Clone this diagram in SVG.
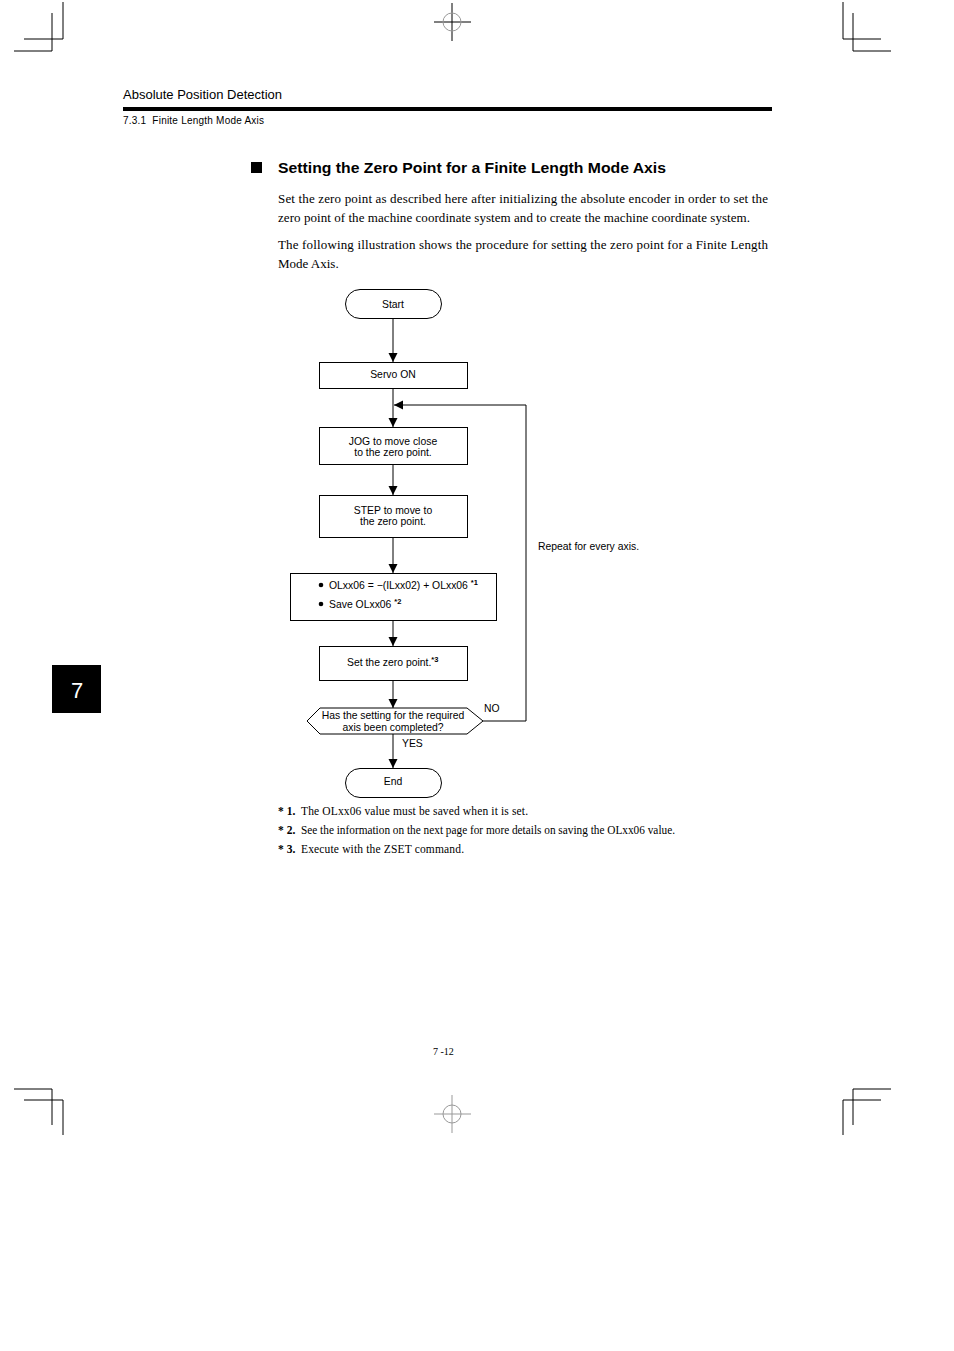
<svg xmlns="http://www.w3.org/2000/svg" width="954" height="1351" viewBox="0 0 954 1351">
<defs>
<style>
.ln{stroke:#000;stroke-width:1;fill:none}
.box{fill:#fff;stroke:#000;stroke-width:1}
.t{font-family:"Liberation Sans",Arial,sans-serif;font-size:10.4px;fill:#000;text-anchor:middle}
.tl{font-family:"Liberation Sans",Arial,sans-serif;font-size:10.4px;fill:#000}
.sup{font-family:"Liberation Sans",Arial,sans-serif;font-size:7.5px;font-weight:bold;fill:#000}
.body{font-family:"Liberation Serif","Times New Roman",serif;font-size:13px;fill:#000}
.fn{font-family:"Liberation Serif","Times New Roman",serif;font-size:11.5px;fill:#000}
.reg{stroke:#000;stroke-width:1;fill:none}
.regg{stroke:#999;stroke-width:1;fill:none}
</style>
<marker id="ah" markerWidth="10" markerHeight="10" refX="9" refY="5" orient="auto" markerUnits="userSpaceOnUse">
<path d="M0,0.5 L9,5 L0,9.5 Z" fill="#000"/>
</marker>
</defs>
<rect width="954" height="1351" fill="#fff"/>

<!-- registration marks -->
<g id="marks">
<path class="reg" d="M63,2 V39 M24,39 H63 M52,13 V51 M14,51 H52"/>
<path class="reg" d="M843,2 V39 M843,39 H881 M853,13 V51 M853,51 H891"/>
<path class="reg" d="M452,3 V41 M434,22 H471"/>
<circle class="regg" cx="452" cy="22" r="9"/>
<path class="reg" d="M14,1089 H52 V1125 M24,1100 H63 V1135"/>
<path class="reg" d="M853,1089 H891 M853,1089 V1125 M843,1100 H881 M843,1100 V1135"/>
<path class="regg" d="M452,1095 V1133 M434,1114 H471"/>
<circle class="regg" cx="452" cy="1114" r="9"/>
</g>

<!-- header -->
<g id="header">
<text x="123" y="99" font-family="Liberation Sans,Arial,sans-serif" font-size="13">Absolute Position Detection</text>
<rect x="123" y="107" width="649" height="4" fill="#000"/>
<text x="123" y="124" font-family="Liberation Sans,Arial,sans-serif" font-size="10" textLength="141" lengthAdjust="spacing" xml:space="preserve">7.3.1  Finite Length Mode Axis</text>
</g>

<!-- heading and body -->
<g id="heading">
<rect x="251" y="162" width="11" height="11" fill="#000"/>
<text x="278" y="173" font-family="Liberation Sans,Arial,sans-serif" font-size="15" font-weight="bold" textLength="388" lengthAdjust="spacingAndGlyphs">Setting the Zero Point for a Finite Length Mode Axis</text>
</g>
<g id="body">
<text class="body" x="278" y="203" textLength="490" lengthAdjust="spacing">Set the zero point as described here after initializing the absolute encoder in order to set the</text>
<text class="body" x="278" y="222" textLength="472" lengthAdjust="spacing">zero point of the machine coordinate system and to create the machine coordinate system.</text>
<text class="body" x="278" y="249" textLength="490" lengthAdjust="spacing">The following illustration shows the procedure for setting the zero point for a Finite Length</text>
<text class="body" x="278" y="268">Mode Axis.</text>
</g>

<!-- connectors -->
<g id="connectors">
<line class="ln" x1="393" y1="318" x2="393" y2="362" marker-end="url(#ah)"/>
<line class="ln" x1="393" y1="388" x2="393" y2="427" marker-end="url(#ah)"/>
<line class="ln" x1="393" y1="464" x2="393" y2="495" marker-end="url(#ah)"/>
<line class="ln" x1="393" y1="537" x2="393" y2="573" marker-end="url(#ah)"/>
<line class="ln" x1="393" y1="620" x2="393" y2="646" marker-end="url(#ah)"/>
<line class="ln" x1="393" y1="680" x2="393" y2="708" marker-end="url(#ah)"/>
<line class="ln" x1="393" y1="734" x2="393" y2="768" marker-end="url(#ah)"/>
<polyline class="ln" points="483,721 526,721 526,405 394,405" marker-end="url(#ah)"/>
<text class="tl" x="484" y="712">NO</text>
<text class="tl" x="402" y="747">YES</text>
<text class="tl" x="538" y="550">Repeat for every axis.</text>
</g>

<!-- nodes -->
<g id="start">
<rect class="box" x="345.5" y="289.5" width="96" height="29" rx="14.5"/>
<text class="t" x="393" y="308">Start</text>
</g>
<g id="servo">
<rect class="box" x="319.5" y="362.5" width="148" height="26"/>
<text class="t" x="393" y="378">Servo ON</text>
</g>
<g id="jog">
<rect class="box" x="319.5" y="427.5" width="148" height="37"/>
<text class="t" x="393" y="445">JOG to move close</text>
<text class="t" x="393" y="456">to the zero point.</text>
</g>
<g id="step">
<rect class="box" x="319.5" y="495.5" width="148" height="42"/>
<text class="t" x="393" y="514">STEP to move to</text>
<text class="t" x="393" y="525">the zero point.</text>
</g>
<g id="calc">
<rect class="box" x="290.5" y="573.5" width="206" height="47"/>
<circle cx="321" cy="585" r="2.3" fill="#000"/>
<text class="tl" x="329" y="589">OLxx06 = −(ILxx02) + OLxx06 <tspan class="sup" dy="-4">*1</tspan></text>
<circle cx="321" cy="604" r="2.3" fill="#000"/>
<text class="tl" x="329" y="608">Save OLxx06 <tspan class="sup" dy="-4">*2</tspan></text>
</g>
<g id="setzero">
<rect class="box" x="319.5" y="646.5" width="148" height="34"/>
<text class="tl" x="347" y="666">Set the zero point.<tspan class="sup" dy="-4">*3</tspan></text>
</g>
<g id="decision">
<polygon class="box" points="307,721 320,708 467,708 483,721 467,734 320,734"/>
<text class="t" x="393" y="719">Has the setting for the required</text>
<text class="t" x="393" y="731">axis been completed?</text>
</g>
<g id="end">
<rect class="box" x="345.5" y="768.5" width="96" height="29" rx="14.5"/>
<text class="t" x="393" y="785">End</text>
</g>

<!-- footnotes -->
<g id="footnotes">
<text class="fn" x="278" y="815" font-weight="bold">* 1.</text>
<text class="fn" x="301" y="815" textLength="227" lengthAdjust="spacing">The OLxx06 value must be saved when it is set.</text>
<text class="fn" x="278" y="834" font-weight="bold">* 2.</text>
<text class="fn" x="301" y="834" textLength="374" lengthAdjust="spacingAndGlyphs">See the information on the next page for more details on saving the OLxx06 value.</text>
<text class="fn" x="278" y="853" font-weight="bold">* 3.</text>
<text class="fn" x="301" y="853" textLength="163" lengthAdjust="spacing">Execute with the ZSET command.</text>
</g>

<!-- side tab -->
<g id="tab">
<rect x="52" y="665" width="49" height="48" fill="#000"/>
<text x="77" y="698" font-family="Liberation Sans,Arial,sans-serif" font-size="22" fill="#fff" text-anchor="middle">7</text>
</g>

<text x="433" y="1055" font-family="Liberation Serif,Times New Roman,serif" font-size="10">7 -12</text>
</svg>
